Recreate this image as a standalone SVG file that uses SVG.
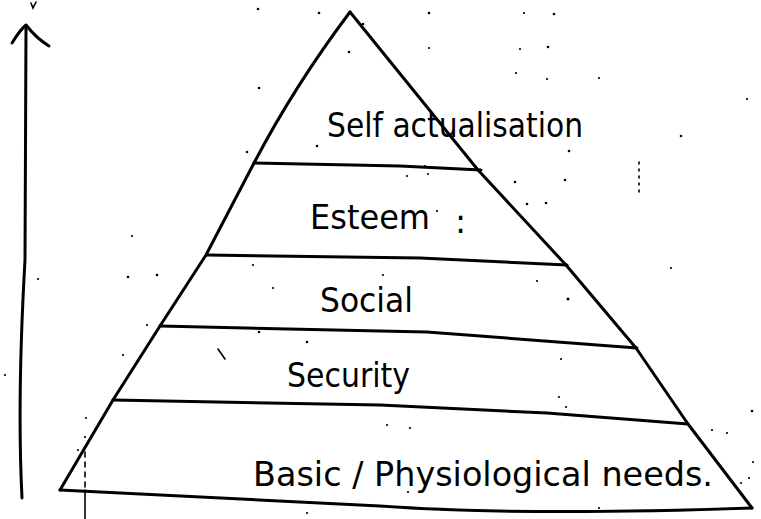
<svg xmlns="http://www.w3.org/2000/svg" width="761" height="519" viewBox="0 0 761 519">
  <style>
    .ink { fill: none; stroke: #000; stroke-width: 3; stroke-linecap: round; stroke-linejoin: round; }
    .thin { fill: none; stroke: #000; stroke-width: 1.6; stroke-linecap: round; }
    .label { font-family: "DejaVu Sans", "Liberation Sans", sans-serif; font-size: 33px; fill: #000; }
    .speck { fill: #000; }
  </style>
  <rect width="761" height="519" fill="#fff"/>

  <!-- vertical axis with arrow -->
  <g id="axis">
    <path class="ink" d="M26,27 L25,260 Q17,400 22,498"/>
    <path class="ink" d="M12,43 Q20,30 26,25 Q36,38 49,46"/>
    <path class="thin" d="M31,3 L33,8 L36,2"/>
  </g>

  <!-- pyramid outline and level dividers -->
  <g id="connectors">
    <path class="ink" d="M60,490 L113,400 L160,326 L206,255 L254,163 Q295,85 350,12"/>
    <path class="ink" d="M350,12 L478,170 L566,265 L636,348 L688,424 L752,508"/>
    <path class="ink" d="M254,163 L400,166 L481,170"/>
    <path class="ink" d="M207,255 L420,258 L567,265"/>
    <path class="ink" d="M160,326 L380,331 L427,332 L637,348"/>
    <path class="ink" d="M113,400 L380,405 L547,413 L688,424"/>
    <path class="ink" d="M60,490 L380,506 Q520,516 752,508"/>
    <path class="thin" d="M85,452 L85,490" stroke-dasharray="5,5"/>
    <path class="thin" d="M85,490 L85,519"/>
    <path class="thin" d="M639,162 L639,197" stroke-dasharray="2,5"/>
  </g>

  <g id="level-self-actualisation">
    <text class="label" x="327" y="137" textLength="256" lengthAdjust="spacingAndGlyphs">Self actualisation</text>
  </g>
  <g id="level-esteem">
    <text class="label" x="310" y="229" textLength="120" lengthAdjust="spacingAndGlyphs">Esteem</text>
    <text class="label" x="455" y="233">:</text>
  </g>
  <g id="level-social">
    <text class="label" x="320" y="312" textLength="93" lengthAdjust="spacingAndGlyphs">Social</text>
  </g>
  <g id="level-security">
    <text class="label" x="287" y="387" textLength="123" lengthAdjust="spacingAndGlyphs">Security</text>
  </g>
  <g id="level-basic">
    <text class="label" x="253" y="486" textLength="460" lengthAdjust="spacingAndGlyphs">Basic / Physiological needs.</text>
  </g>

  <!-- scattered pencil specks -->
  <g id="specks" class="speck">
    <circle cx="258" cy="9" r="1.3"/><circle cx="319" cy="13" r="1.3"/><circle cx="363" cy="24" r="1.3"/>
    <circle cx="349" cy="52" r="1.3"/><circle cx="259" cy="88" r="1.3"/><circle cx="317" cy="146" r="1.3"/>
    <circle cx="247" cy="152" r="1.3"/><circle cx="132" cy="236" r="1.1"/>
    <circle cx="429" cy="13" r="1.3"/><circle cx="524" cy="13" r="1.1"/><circle cx="554" cy="14" r="1.3"/>
    <circle cx="429" cy="48" r="1.1"/><circle cx="520" cy="49" r="1.1"/><circle cx="548" cy="47" r="1.3"/>
    <circle cx="516" cy="73" r="1.1"/><circle cx="547" cy="79" r="1.1"/><circle cx="599" cy="78" r="1.1"/>
    <circle cx="747" cy="99" r="1.1"/><circle cx="681" cy="136" r="1.3"/><circle cx="569" cy="151" r="1.3"/>
    <circle cx="515" cy="182" r="1.3"/><circle cx="565" cy="180" r="1.3"/><circle cx="527" cy="204" r="1.3"/>
    <circle cx="546" cy="203" r="1.3"/><circle cx="425" cy="166" r="1.1"/><circle cx="407" cy="176" r="1.1"/>
    <circle cx="428" cy="174" r="1.1"/><circle cx="437" cy="211" r="1.1"/>
    <circle cx="253" cy="265" r="1.1"/><circle cx="273" cy="288" r="1.1"/><circle cx="38" cy="279" r="1.1"/>
    <circle cx="128" cy="277" r="1.3"/><circle cx="157" cy="275" r="1.3"/><circle cx="147" cy="325" r="1.1"/>
    <circle cx="259" cy="332" r="1.3"/><circle cx="307" cy="342" r="1.3"/><circle cx="123" cy="355" r="1.1"/>
    <circle cx="5" cy="375" r="1.1"/><circle cx="86" cy="418" r="1.1"/><circle cx="85" cy="437" r="1.1"/>
    <circle cx="78" cy="450" r="1.1"/><circle cx="307" cy="513" r="1.1"/>
    <path class="thin" d="M218,349 L225,359"/>
    <circle cx="671" cy="268" r="1.1"/><circle cx="537" cy="281" r="1.1"/><circle cx="568" cy="299" r="1.5"/>
    <circle cx="561" cy="359" r="1.1"/><circle cx="559" cy="397" r="1.1"/><circle cx="566" cy="407" r="1.1"/>
    <circle cx="752" cy="411" r="1.3"/><circle cx="712" cy="430" r="1.1"/><circle cx="727" cy="433" r="1.1"/>
    <circle cx="753" cy="462" r="1.1"/><circle cx="749" cy="478" r="1.1"/><circle cx="741" cy="483" r="1.1"/>
    <circle cx="408" cy="492" r="1.1"/><circle cx="599" cy="508" r="1.1"/><circle cx="387" cy="425" r="1.1"/>
    <circle cx="410" cy="428" r="1.1"/><circle cx="383" cy="275" r="1.1"/>
  </g>
</svg>
